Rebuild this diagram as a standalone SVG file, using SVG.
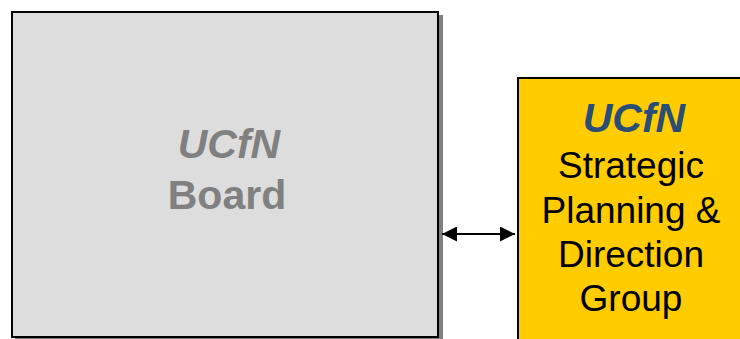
<svg xmlns="http://www.w3.org/2000/svg" width="740" height="339" viewBox="0 0 740 339">
<style>
.t{font-family:"Liberation Sans",Arial,sans-serif;text-anchor:middle}
.bi{font-weight:bold;font-style:italic}
</style>
<defs>
<marker id="ah" viewBox="0 0 10 10" refX="10" refY="5" markerWidth="15" markerHeight="15" markerUnits="userSpaceOnUse" orient="auto-start-reverse">
<path d="M0,0 L10,5 L0,10 Z" fill="#000"/>
</marker>
</defs>
<rect width="740" height="339" fill="#fff"/>
<g id="board">
<rect x="15" y="15" width="428" height="330" fill="#808080"/>
<rect x="12" y="12" width="426" height="325" fill="#dddddd" stroke="#000" stroke-width="2"/>
<text class="t bi" x="229" y="158" font-size="41" fill="#808080">UCfN</text>
<text class="t" x="227" y="209" font-size="41" font-weight="bold" fill="#808080">Board</text>
</g>
<g id="spdg">
<rect x="518" y="78" width="240" height="280" fill="#ffcc00" stroke="#000" stroke-width="2"/>
<text class="t bi" x="634" y="132" font-size="41" fill="#2a4d78">UCfN</text>
<text class="t" x="631" y="178" font-size="37" fill="#000">Strategic</text>
<text class="t" x="631" y="223" font-size="37" fill="#000">Planning &amp;</text>
<text class="t" x="631" y="267" font-size="37" fill="#000">Direction</text>
<text class="t" x="631" y="311" font-size="37" fill="#000">Group</text>
</g>
<g id="connectors">
<line x1="442" y1="234" x2="515" y2="234" stroke="#000" stroke-width="2" marker-start="url(#ah)" marker-end="url(#ah)"/>
</g>
</svg>
